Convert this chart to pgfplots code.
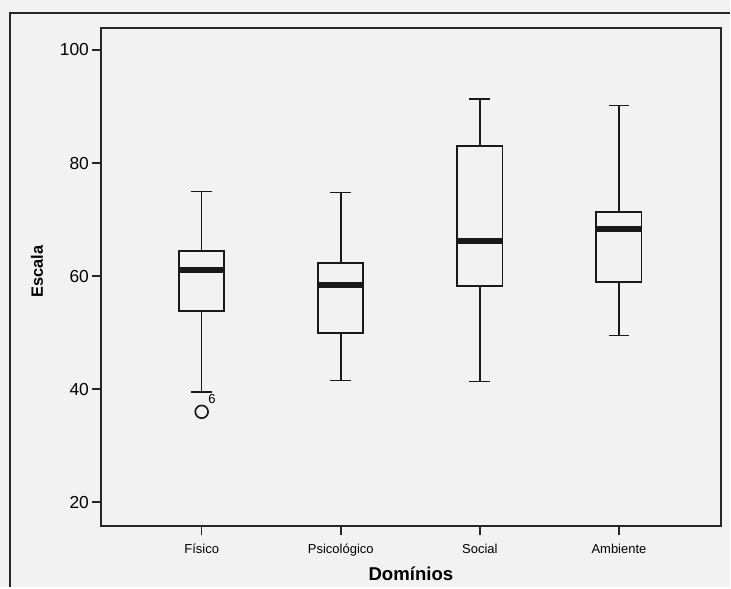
\documentclass[border=0pt]{standalone}
\usepackage{fontspec}
\setmainfont{Liberation Sans}
\usepackage{pgfplots}
\pgfplotsset{compat=1.18}
\usepgfplotslibrary{statistics}
\begin{document}
\begin{tikzpicture}
\fill[black!5] (0,0) rectangle (365.5pt,294pt);
\draw[line width=1.1pt, black!85] (5pt,0pt) -- (5pt,287.5pt) -- (365.5pt,287.5pt);
\begin{axis}[
  at={(50.5pt,30.5pt)}, anchor=south west,
  scale only axis, width=310.5pt, height=249.5pt,
  xmin=-0.725, xmax=3.733, ymin=15.76, ymax=103.9,
  axis line style={line width=0.9pt, black!85},
  xtick={0,1,2,3}, xticklabels={Físico,Psicológico,Social,Ambiente},
  ytick={20,40,60,80,100},
  tick align=outside, xtick pos=bottom, ytick pos=left,
  major tick length=4.3pt,
  tick style={line width=0.8pt, black!85},
  /pgf/number format/assume math mode=true,
  yticklabel style={font=\fontsize{8.7}{10}\selectfont, inner sep=1.5pt},
  xticklabel style={font=\fontsize{6.5}{8}\selectfont, yshift=-1pt},
  xlabel={\textbf{Domínios}}, ylabel={\textbf{Escala}},
  every axis x label/.style={at={(axis description cs:0.5,-0.096)}, anchor=center, font=\fontsize{9.3}{11}\selectfont},
  every axis y label/.style={at={(axis description cs:-0.103,0.511)}, anchor=center, rotate=90, font=\fontsize{8.2}{10}\selectfont},
  boxplot/draw direction=y,
  boxplot/every box/.style={line width=0.9pt},
  boxplot/every whisker/.style={line width=0.75pt},
  boxplot/every median/.style={line width=3pt},
]
\addplot+[black!90, solid, mark=o, mark size=3.2pt, mark options={line width=0.85pt},
  boxplot prepared={draw position=0, lower whisker=39.5, lower quartile=53.8, median=61, upper quartile=64.5, upper whisker=75, box extend=0.325, whisker extend=0.15}]
  table[row sep=\\, y index=0] {y\\ 36\\};
\addplot+[black!90, solid, mark=none, boxplot prepared={draw position=1, lower whisker=41.5, lower quartile=50, median=58.5, upper quartile=62.3, upper whisker=74.8, box extend=0.325, whisker extend=0.15}] coordinates {};
\addplot+[black!90, solid, mark=none, boxplot prepared={draw position=2, lower whisker=41.4, lower quartile=58.3, median=66.3, upper quartile=83, upper whisker=91.3, box extend=0.325, whisker extend=0.15}] coordinates {};
\addplot+[black!90, solid, mark=none, boxplot prepared={draw position=3, lower whisker=49.5, lower quartile=59, median=68.4, upper quartile=71.3, upper whisker=90.2, box extend=0.325, whisker extend=0.15}] coordinates {};
\addplot[only marks, mark=none,
  nodes near coords={6},
  every node near coord/.append style={anchor=south west, inner sep=0pt, font=\fontsize{6.5}{8}\selectfont, xshift=3.2pt, yshift=4pt}]
  coordinates {(0,36)};
\end{axis}
\end{tikzpicture}
\end{document}
